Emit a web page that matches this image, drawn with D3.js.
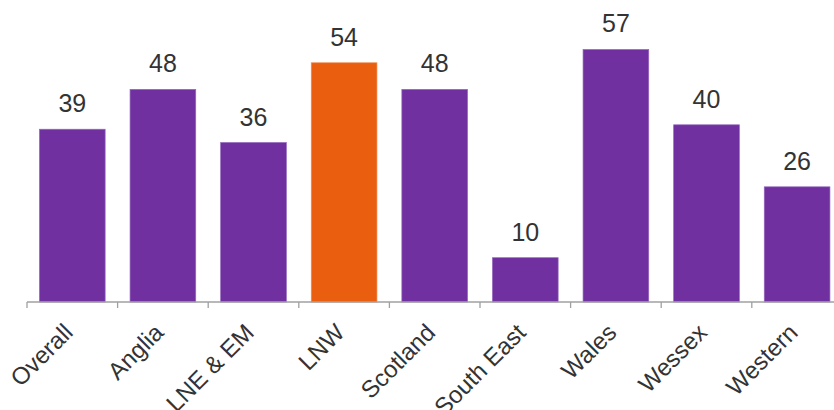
<!DOCTYPE html>
<html>
<head>
<meta charset="utf-8">
<script src="https://cdn.jsdelivr.net/npm/d3@7"></script>
<style>
  body { margin: 0; background: #fff; }
  svg { display: block; font-family: "Liberation Sans", Arial, sans-serif; }
</style>
</head>
<body>
<script>
const categories = ["Overall", "Anglia", "LNE & EM", "LNW", "Scotland", "South East", "Wales", "Wessex", "Western"];
const values = [39, 48, 36, 54, 48, 10, 57, 40, 26];
const highlight = "LNW";

const width = 834;
const height = 410;
const baseline = 302;

const svg = d3.select("body")
  .append("svg")
  .attr("width", width)
  .attr("height", height);

const x = d3.scaleBand()
  .domain(categories)
  .range([27, 842.4])
  .paddingInner(0.275)
  .paddingOuter(0.1375);

const y = d3.scaleLinear()
  .domain([0, 60])
  .range([baseline, 36.2]);

// bars
svg.append("g")
  .selectAll("rect")
  .data(categories)
  .enter()
  .append("rect")
  .attr("x", d => x(d))
  .attr("width", x.bandwidth())
  .attr("y", (d, i) => y(values[i]))
  .attr("height", (d, i) => baseline - y(values[i]))
  .attr("fill", d => d === highlight ? "#E95E0F" : "#7030A0")
  .attr("stroke", d => d === highlight ? "#f08a50" : "#9467bd")
  .attr("stroke-width", 0.7);

// value labels
svg.append("g")
  .selectAll("text")
  .data(categories)
  .enter()
  .append("text")
  .attr("x", d => x(d) + x.bandwidth() / 2)
  .attr("y", (d, i) => y(values[i]) - 17)
  .attr("text-anchor", "middle")
  .attr("font-size", 25)
  .attr("fill", "#333")
  .text((d, i) => values[i]);

// axis: line with ticks between the categories
const step = x.step();
const axis = svg.append("g").attr("stroke", "#a0a0a0").attr("stroke-width", 1.3);
axis.append("line")
  .attr("x1", 27).attr("x2", 842.4)
  .attr("y1", baseline).attr("y2", baseline);
axis.selectAll(".tick")
  .data(d3.range(categories.length + 1))
  .enter()
  .append("line")
  .attr("x1", i => 27 + i * step)
  .attr("x2", i => 27 + i * step)
  .attr("y1", baseline)
  .attr("y2", baseline + 6);

// rotated category labels
svg.append("g")
  .selectAll("text")
  .data(categories)
  .enter()
  .append("text")
  .attr("transform", d => `translate(${x(d) + x.bandwidth() / 2 + 2}, ${baseline + 32}) rotate(-45)`)
  .attr("text-anchor", "end")
  .attr("font-size", 24)
  .attr("fill", "#333")
  .text(d => d);
</script>
</body>
</html>
